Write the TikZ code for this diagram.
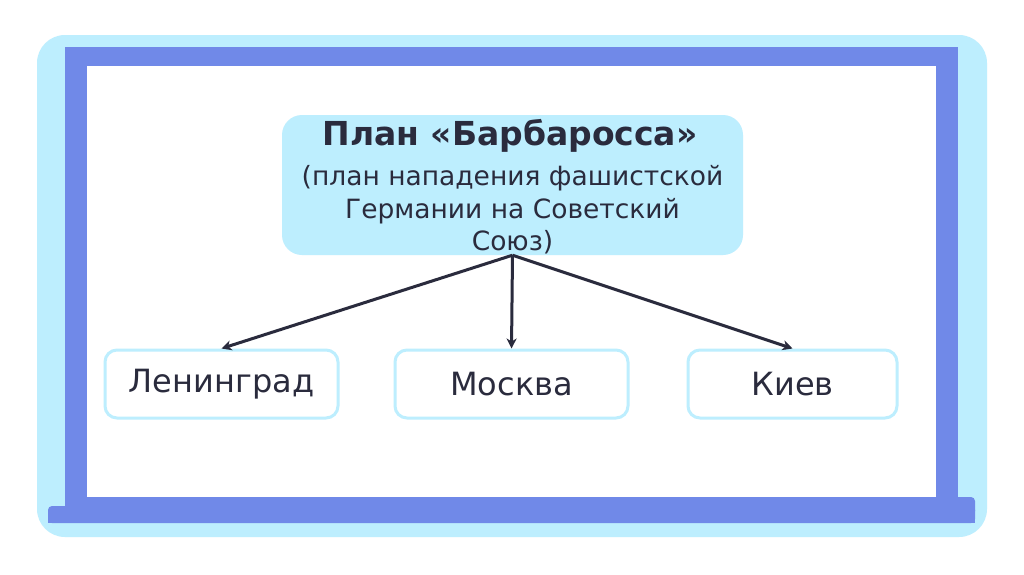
\documentclass[tikz,border=0pt]{standalone}
\usepackage{fontspec}
\setmainfont{DejaVu Sans}
\usetikzlibrary{arrows.meta}
\definecolor{lightsky}{HTML}{BDEEFE}
\definecolor{frameblue}{HTML}{7089E8}
\definecolor{inkdark}{HTML}{2A2B3D}
\tikzset{
  planbox/.style={fill=lightsky, rounded corners=20pt, minimum width=461pt, minimum height=140pt, inner sep=0pt},
  planline/.style={anchor=base, inner sep=0pt, text=inkdark, font=\fontsize{26.5}{33}\selectfont},
  plantitle/.style={anchor=base, inner sep=0pt, text=inkdark, font=\fontsize{33}{36}\selectfont\bfseries},
  citybox/.style={draw=lightsky, line width=3pt, fill=white, rounded corners=12pt, inner sep=0pt, text=inkdark, font=\fontsize{32}{36}\selectfont},
  link/.style={draw=inkdark, line width=3pt, -{Stealth[length=10pt,width=10pt,inset=3pt]}}
}
\begin{document}
\begin{tikzpicture}[x=1pt,y=-1pt]
\useasboundingbox (0,0) rectangle (1024,574);
\fill[white] (0,0) rectangle (1024,574);
% outer light frame
\fill[lightsky, rounded corners=28pt] (37,35) rectangle (987,537);
% blue frame
\fill[frameblue] (65,47) rectangle (958,510);
\fill[frameblue, rounded corners=4pt] (48,506) rectangle (975,523);
\fill[frameblue] (48,515) rectangle (56,523);
\fill[frameblue] (967,515) rectangle (975,523);
\fill[frameblue, rounded corners=4pt] (940,497) rectangle (975,515);
\fill[white] (87,66) rectangle (936,497);
% nodes
\node[planbox] (plan) at (512.5,185) {};
\node[plantitle] (t1) at (510,145) {План «Барбаросса»};
\node[planline] (t2) at (512.5,185) {(план нападения фашистской};
\node[planline] (t3) at (512.5,218) {Германии на Советский};
\node[planline] (t4) at (512.5,250) {Союз)};
\node[citybox, minimum width=233pt, minimum height=68pt] (len) at (221.5,384) {Ленинград};
\node[citybox, minimum width=233pt, minimum height=68pt] (msk) at (511.5,384) {Москва};
\node[citybox, minimum width=209pt, minimum height=68pt] (kiev) at (792.5,384) {Киев};
% connectors
\draw[link] (plan.south) -- (len.north);
\draw[link] (plan.south) -- (msk.north);
\draw[link] (plan.south) -- (kiev.north);
\end{tikzpicture}
\end{document}
